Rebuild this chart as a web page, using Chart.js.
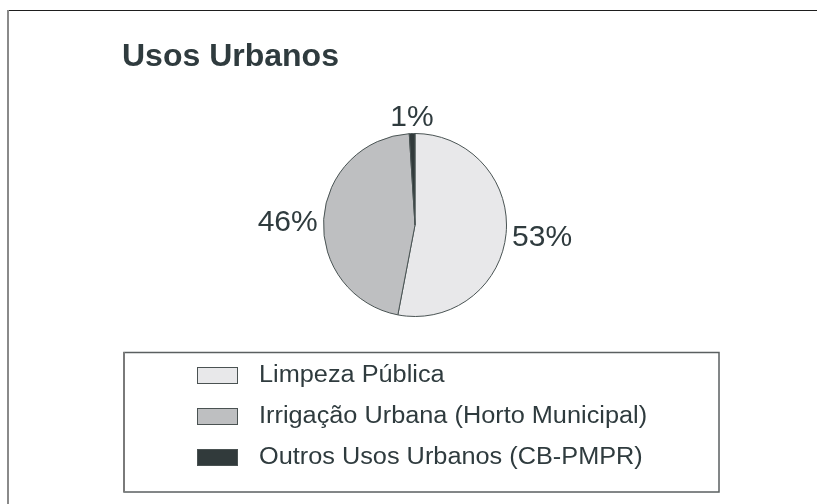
<!DOCTYPE html>
<html>
<head>
<meta charset="utf-8">
<script src="https://cdn.jsdelivr.net/npm/chart.js@4/dist/chart.umd.min.js"></script>
<style>
  html, body { margin: 0; padding: 0; background: #ffffff; }
  #wrap { width: 832px; height: 504px; position: relative; }
</style>
</head>
<body>
<div id="wrap"><canvas id="c" width="832" height="504"></canvas></div>
<script>
// Usos Urbanos: share of each urban use (%)
const title = 'Usos Urbanos';
const categories = ['Limpeza Pública', 'Irrigação Urbana (Horto Municipal)', 'Outros Usos Urbanos (CB-PMPR)'];
const shares = [53, 46, 1];
const sliceColors = ['#e8e8ea', '#bebfc1', '#313a3b'];

const textColor = '#2f3b3e';
const FONT = '"Liberation Sans", Arial, sans-serif';

// Frame, title and legend box drawn around the pie
const decorations = {
  id: 'decorations',
  beforeDraw(chart) {
    const ctx = chart.ctx;
    ctx.save();
    ctx.fillStyle = '#ffffff';
    ctx.fillRect(0, 0, chart.width, chart.height);
    // outer frame (top and left edges)
    ctx.strokeStyle = '#1e1e1e';
    ctx.lineWidth = 1;
    ctx.beginPath();
    ctx.moveTo(7, 10.5);
    ctx.lineTo(817, 10.5);
    ctx.stroke();
    ctx.strokeStyle = '#8a8a8a';
    ctx.lineWidth = 2;
    ctx.beginPath();
    ctx.moveTo(8, 10);
    ctx.lineTo(8, chart.height);
    ctx.stroke();
    // title
    ctx.fillStyle = textColor;
    ctx.font = 'bold 32px ' + FONT;
    ctx.textAlign = 'left';
    ctx.textBaseline = 'alphabetic';
    ctx.fillText(title, 122, 66);
    ctx.restore();
  },
  afterDraw(chart) {
    const ctx = chart.ctx;
    const ds = chart.data.datasets[0];
    ctx.save();
    // legend frame
    ctx.strokeStyle = '#5a5f60';
    ctx.lineWidth = 1.5;
    ctx.strokeRect(124, 352.5, 595, 139.5);
    ctx.strokeStyle = '#7a7a7a';
    ctx.lineWidth = 2;
    ctx.beginPath();
    ctx.moveTo(124, 352);
    ctx.lineTo(124, 492);
    ctx.stroke();
    // legend entries
    chart.data.labels.forEach((lab, i) => {
      const cy = 375 + i * 41;
      ctx.fillStyle = ds.backgroundColor[i];
      ctx.fillRect(197, cy - 8, 41, 17);
      ctx.strokeStyle = '#4a5252';
      ctx.lineWidth = 1;
      ctx.strokeRect(197.5, cy - 7.5, 40, 16);
      ctx.save();
      ctx.translate(259, cy);
      ctx.scale(1.1, 1);
      ctx.fillStyle = textColor;
      ctx.font = '23px ' + FONT;
      ctx.textAlign = 'left';
      ctx.textBaseline = 'middle';
      ctx.fillText(lab, 0, 1);
      ctx.restore();
    });
    ctx.restore();
  }
};

// Percentage labels placed just outside each slice
const sliceLabels = {
  id: 'sliceLabels',
  afterDatasetsDraw(chart) {
    const ctx = chart.ctx;
    const meta = chart.getDatasetMeta(0);
    const values = chart.data.datasets[0].data;
    ctx.save();
    ctx.fillStyle = textColor;
    ctx.font = '30px ' + FONT;
    meta.data.forEach((arc, i) => {
      const p = arc.getProps(['x', 'y', 'startAngle', 'endAngle', 'outerRadius'], true);
      const mid = (p.startAngle + p.endAngle) / 2;
      const r = p.outerRadius + 6;
      const x = p.x + Math.cos(mid) * r;
      const y = p.y + Math.sin(mid) * r;
      const c = Math.cos(mid);
      let dy = 4;
      if (c > 0.3) { ctx.textAlign = 'left'; ctx.textBaseline = 'middle'; }
      else if (c < -0.3) { ctx.textAlign = 'right'; ctx.textBaseline = 'middle'; }
      else {
        ctx.textAlign = 'center';
        ctx.textBaseline = Math.sin(mid) < 0 ? 'alphabetic' : 'top';
        dy = Math.sin(mid) < 0 ? -2 : 2;
      }
      ctx.fillText(values[i] + '%', x, y + dy);
    });
    ctx.restore();
  }
};

new Chart(document.getElementById('c'), {
  type: 'pie',
  data: {
    labels: categories,
    datasets: [{
      data: shares,
      backgroundColor: sliceColors,
      borderColor: '#4a5454',
      borderWidth: 1
    }]
  },
  options: {
    responsive: false,
    animation: false,
    layout: { padding: { left: 323, right: 325, top: 133, bottom: 187 } },
    plugins: {
      legend: { display: false },
      title: { display: false },
      tooltip: { enabled: false }
    }
  },
  plugins: [decorations, sliceLabels]
});
</script>
</body>
</html>
